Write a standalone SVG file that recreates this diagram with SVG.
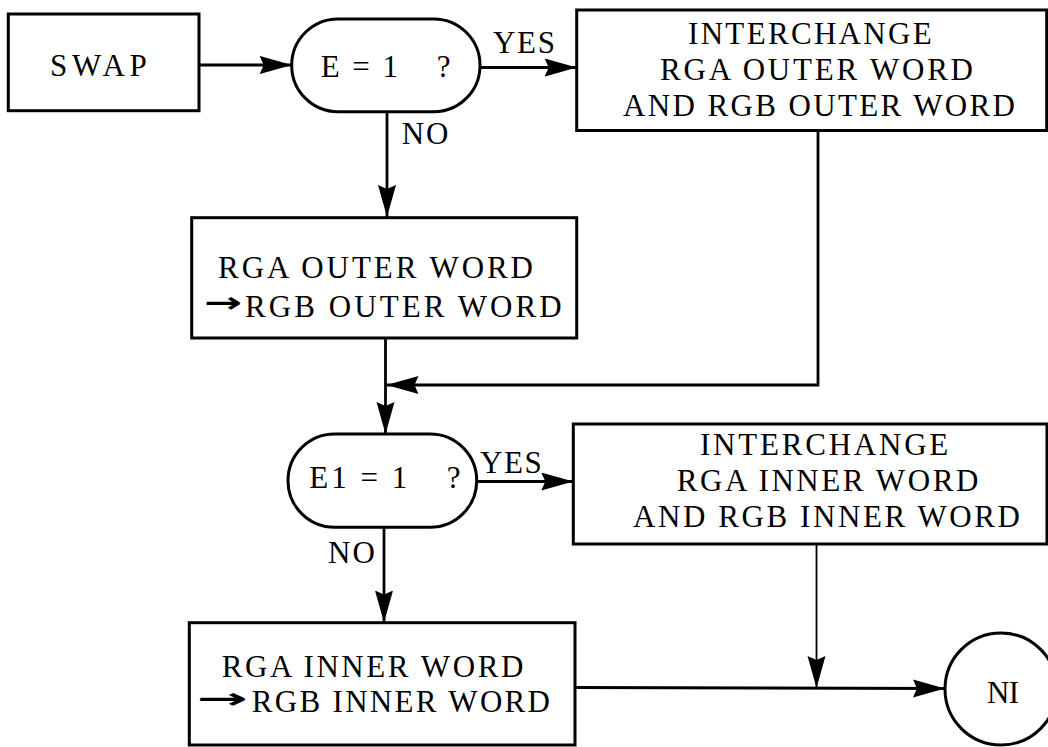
<svg xmlns="http://www.w3.org/2000/svg" width="1048" height="747" viewBox="0 0 1048 747">
  <defs>
    <marker id="arr" markerUnits="userSpaceOnUse" markerWidth="34" markerHeight="20" refX="32" refY="9" orient="auto">
      <path d="M0,0 L32,9 L0,18 L4,9 z" fill="#000"/>
    </marker>
    <style>
      .box { fill: #fff; stroke: #000; stroke-width: 3; }
      .c { fill: none; stroke: #000; stroke-width: 2.8; }
      .thin { stroke-width: 1.8; }
    </style>
  </defs>
  <rect width="1048" height="747" fill="#fff"/>

  <!-- connectors -->
  <g id="connectors">
    <line class="c" x1="199" y1="65" x2="291.7" y2="65" marker-end="url(#arr)"/>
    <line class="c" x1="480" y1="67.5" x2="576.7" y2="67.5" marker-end="url(#arr)"/>
    <line class="c" x1="387" y1="111.7" x2="387" y2="217" marker-end="url(#arr)"/>
    <polyline class="c" points="818,130 818,385 386.5,385" marker-end="url(#arr)"/>
    <line class="c" x1="385.5" y1="338" x2="385.5" y2="434" marker-end="url(#arr)"/>
    <line class="c" x1="476.7" y1="481.5" x2="573.3" y2="481.5" marker-end="url(#arr)"/>
    <line class="c" x1="384" y1="527.3" x2="384" y2="622.5" marker-end="url(#arr)"/>
    <line class="c thin" x1="816.5" y1="544" x2="816.5" y2="688" marker-end="url(#arr)"/>
    <line class="c" x1="575" y1="687.5" x2="945" y2="688.5" marker-end="url(#arr)"/>
  </g>

  <g font-family="Liberation Serif, Times New Roman, serif" font-size="31" fill="#000">
    <g id="swap">
      <rect class="box" x="8.3" y="14" width="190.7" height="96.7"/>
      <text x="50" y="76" textLength="96.7" lengthAdjust="spacing">SWAP</text>
    </g>

    <g id="test-e">
      <rect class="box" x="291.7" y="19" width="188.3" height="92.7" rx="46.3" ry="46.3"/>
      <text x="320.7" y="77.3" letter-spacing="2.5" xml:space="preserve">E = 1   <tspan x="436.7" letter-spacing="0">?</tspan></text>
      <text x="493" y="52.7" textLength="62" lengthAdjust="spacing">YES</text>
      <text x="401.7" y="144" textLength="46.6" lengthAdjust="spacing">NO</text>
    </g>

    <g id="interchange-outer">
      <rect class="box" x="576.7" y="10" width="470" height="120.5"/>
      <text x="688" y="44" textLength="243.7" lengthAdjust="spacing">INTERCHANGE</text>
      <text x="660" y="80" textLength="313" lengthAdjust="spacing">RGA OUTER WORD</text>
      <text x="623" y="116" textLength="392" lengthAdjust="spacing">AND RGB OUTER WORD</text>
    </g>

    <g id="move-outer">
      <rect class="box" x="191.7" y="217.7" width="385" height="120.3"/>
      <text x="218" y="278.3" textLength="315" lengthAdjust="spacing">RGA OUTER WORD</text>
      <text x="204" y="312" font-family="DejaVu Sans, sans-serif" font-size="28" font-weight="bold" textLength="38" lengthAdjust="spacingAndGlyphs">→</text>
      <text x="245" y="316.7" textLength="316.7" lengthAdjust="spacing">RGB OUTER WORD</text>
    </g>

    <g id="test-e1">
      <rect class="box" x="288" y="434" width="188.7" height="93.3" rx="46.6" ry="46.6"/>
      <text x="309.3" y="488.3" letter-spacing="3" xml:space="preserve">E1 = 1   <tspan x="446.7" letter-spacing="0">?</tspan></text>
      <text x="480" y="472.7" textLength="61.7" lengthAdjust="spacing">YES</text>
      <text x="328" y="563" textLength="47" lengthAdjust="spacing">NO</text>
    </g>

    <g id="interchange-inner">
      <rect class="box" x="573.3" y="424" width="473.7" height="120"/>
      <text x="700" y="454.5" textLength="248.3" lengthAdjust="spacing">INTERCHANGE</text>
      <text x="676.7" y="490.5" textLength="301.6" lengthAdjust="spacing">RGA INNER WORD</text>
      <text x="633" y="526.5" textLength="387" lengthAdjust="spacing">AND RGB INNER WORD</text>
    </g>

    <g id="move-inner">
      <rect class="box" x="189.3" y="622.7" width="385.7" height="122.3"/>
      <text x="221.7" y="676.7" textLength="301.6" lengthAdjust="spacing">RGA INNER WORD</text>
      <text x="196.7" y="708" font-family="DejaVu Sans, sans-serif" font-size="28" font-weight="bold" textLength="51" lengthAdjust="spacingAndGlyphs">→</text>
      <text x="251.7" y="711.7" textLength="298.3" lengthAdjust="spacing">RGB INNER WORD</text>
    </g>

    <g id="ni">
      <circle class="box" cx="1001" cy="689" r="56"/>
      <text x="987" y="702.7" textLength="32" lengthAdjust="spacing">NI</text>
    </g>
  </g>
</svg>
